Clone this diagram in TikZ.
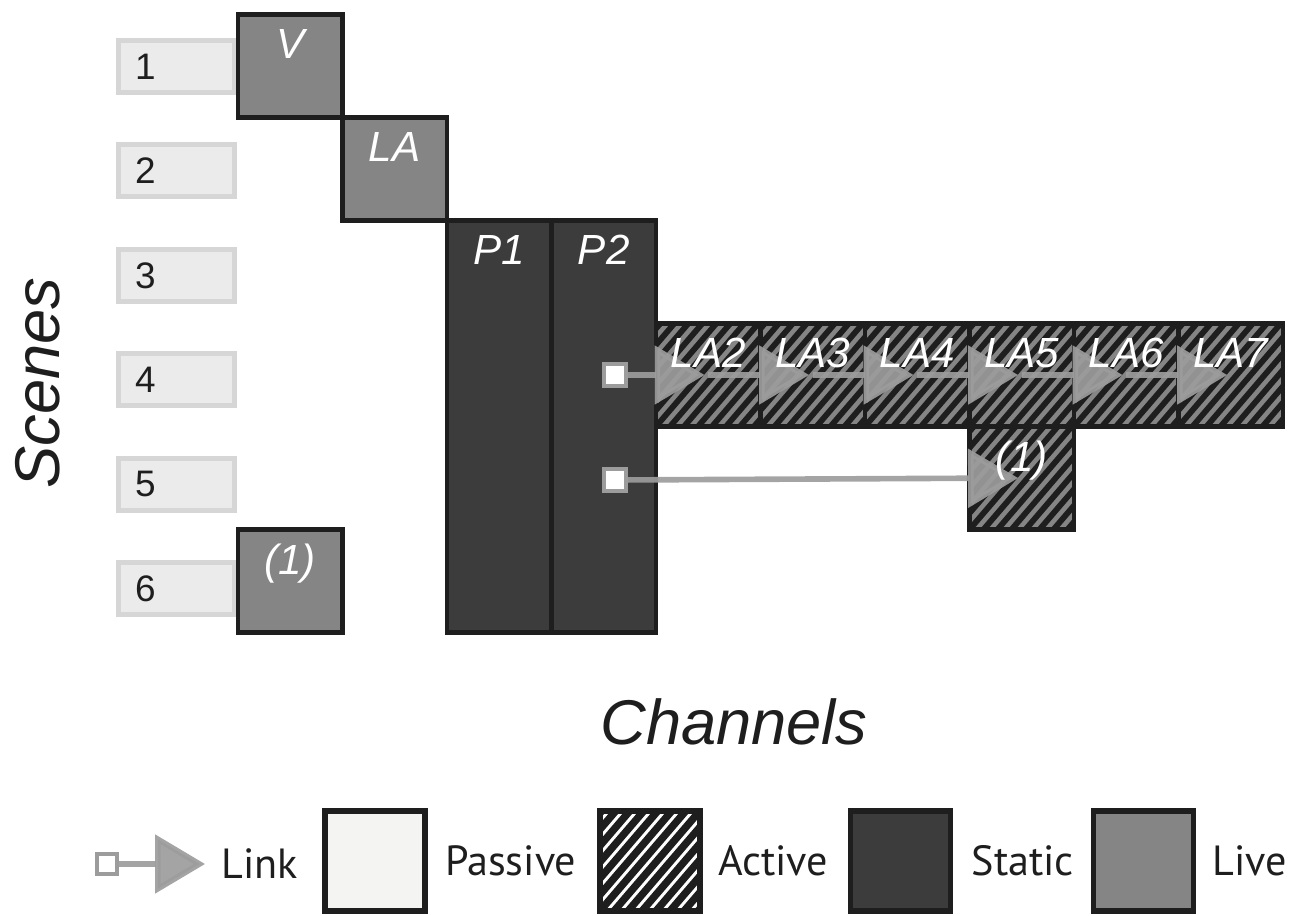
\documentclass[tikz,border=0pt]{standalone}
\usepackage{fontspec}
\setmainfont{Liberation Sans}
\newfontfamily\legendfont{PT Sans}
\usetikzlibrary{positioning,arrows.meta}

\definecolor{edge}{HTML}{1E1E1E}
\definecolor{livegray}{HTML}{858585}
\definecolor{staticgray}{HTML}{3C3C3C}
\definecolor{scenefill}{HTML}{EBEBEB}
\definecolor{sceneline}{HTML}{D6D6D6}
\definecolor{linkgray}{HTML}{9C9C9C}
\definecolor{passivefill}{HTML}{F4F4F2}

\tikzset{
  cell/.style={draw=edge, line width=2.8pt, minimum width=2.09cm, minimum height=2.06cm, inner sep=0pt},
  live/.style={cell, fill=livegray},
  static/.style={cell, fill=staticgray, minimum height=8.24cm},
  hatched/.style={path picture={
      \foreach \k in {-10,...,10}
        \draw[edge, line width=#1]
          ([xshift=\k*0.28cm]path picture bounding box.south west) -- ++(2.4cm,2.8cm);}},
  hatched/.default=3.3pt,
  active/.style={cell, fill=livegray, hatched},
  celltext/.style={anchor=north, inner sep=0pt, yshift=-0.34cm, text=white, font=\fontsize{24}{24}\selectfont\itshape},
  scene/.style={draw=sceneline, fill=scenefill, line width=2.8pt, minimum width=2.32cm, minimum height=1.04cm,
    inner xsep=0.33cm, inner ysep=0pt, text width=1.66cm, align=left, text=edge, font=\fontsize{21}{21}\selectfont},
  linkend/.style={draw=linkgray, fill=white, line width=1.8pt, minimum size=0.44cm, inner sep=0pt},
  link/.style={draw=linkgray, line width=3.2pt, opacity=0.92, -{Triangle[width=1.16cm, length=1cm]}},
  legbox/.style={draw=edge, line width=3.2pt, minimum size=2.0cm, inner sep=0pt},
  legtext/.style={font=\legendfont\fontsize{24}{24}\selectfont, text=edge, inner sep=0pt, anchor=west},
  axis/.style={font=\fontsize{36}{36}\selectfont\itshape, text=edge}
}

\begin{document}
\begin{tikzpicture}[x=0.02cm, y=-0.02cm]
\useasboundingbox (0,0) rectangle (1302,916);

% scene numbers
\foreach \r in {1,...,6}
  \node[scene] (s\r) at (176.5, 66.5+104.4*\r-104.4) {\r};

% channel boxes
\node[live, label={[celltext]north:V}] (v) at (290.25,66) {};
\node[live, label={[celltext]north:LA}] (la) at (394.75,169) {};
\node[static, label={[celltext]north:P1}] (p1) at (499.25,426.5) {};
\node[static, label={[celltext]north:P2}] (p2) at (603.75,426.5) {};
\foreach \n [count=\i from 0] in {2,...,7}
  \node[active] (la\n) at (708.25+104.5*\i, 375) {};
\node[active] (a1) at (1021.75,478) {};
\node[live, label={[celltext]north:(1)}] (l1) at (290.25,581) {};

% links
\node[linkend] (lnk4) at (615,375) {};
\node[linkend] (lnk5) at (615,480) {};
\draw[link] (lnk4) -- ([xshift=1.02cm]la2.west);
\foreach \a/\b in {la2/la3, la3/la4, la4/la5, la5/la6, la6/la7}
  \draw[link] (\a.center) -- ([xshift=1.02cm]\b.west);
\draw[link] (lnk5) -- ([xshift=1.02cm]a1.west);

% active labels on top of the links
\foreach \n in {2,...,7}
  \node[celltext] (tla\n) at (la\n.north) {LA\n};
\node[celltext] (ta1) at (a1.north) {(1)};

% axis titles
\node[axis, rotate=90] (scenes) at (38,383) {Scenes};
\node[axis] (channels) at (734,722) {Channels};

% legend
\node[linkend, minimum size=0.4cm] (lgl) at (107,864) {};
\coordinate (lgtip) at (205,864);
\draw[link] (lgl) -- (lgtip);
\node[legtext, right=0.32cm of lgtip] (tlink) {Link};
\node[legbox, fill=passivefill] (lpas) at (375,861) {};
\node[legtext, right=0.34cm of lpas] (tpas) {Passive};
\node[legbox, fill=white, hatched=4.2pt] (lact) at (650,861) {};
\node[legtext, right=0.3cm of lact] (tact) {Active};
\node[legbox, fill=staticgray] (lsta) at (900.5,861) {};
\node[legtext, right=0.36cm of lsta] (tsta) {Static};
\node[legbox, fill=livegray] (lliv) at (1143.5,861) {};
\node[legtext, right=0.32cm of lliv] (tliv) {Live};
\end{tikzpicture}
\end{document}
